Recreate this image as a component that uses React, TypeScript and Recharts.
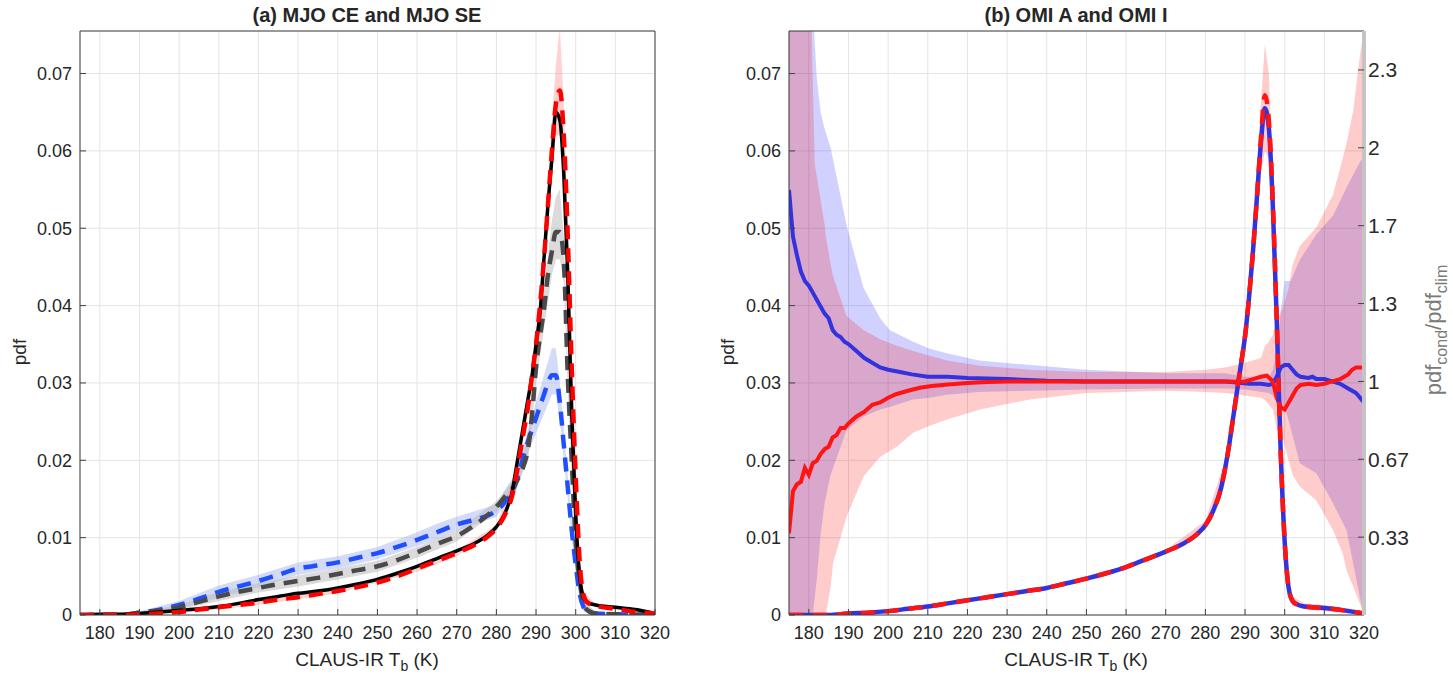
import { ComposedChart, Line, Area, XAxis, YAxis, CartesianGrid } from 'recharts';

// ---- axis ticks ----
const tempTicks = [180, 190, 200, 210, 220, 230, 240, 250, 260, 270, 280, 290, 300, 310, 320];
const pdfTicks = [0, 0.01, 0.02, 0.03, 0.04, 0.05, 0.06, 0.07];
const ratioTicks = [1 / 3, 2 / 3, 1, 4 / 3, 5 / 3, 2, 7 / 3];
const ratioTickLabels = ['0.33', '0.67', '1', '1.3', '1.7', '2', '2.3'];

// ---- panel (a): [Tb, pdf] ----
const mjoClim: [number, number][] = [
  [175, 0], [180, 0.0001], [185, 0.0001], [190, 0.0002], [195, 0.0004], [200, 0.0006], [205, 0.0008],
  [210, 0.0011], [215, 0.0015], [220, 0.002], [225, 0.0024], [230, 0.0028], [235, 0.0031], [240, 0.0035],
  [245, 0.004], [250, 0.0046], [255, 0.0054], [260, 0.0063], [265, 0.0073], [270, 0.0083], [275, 0.0094],
  [278, 0.0104], [280, 0.0114], [282, 0.013], [284, 0.016], [285, 0.019], [286, 0.022], [287, 0.025],
  [288, 0.028], [289, 0.031], [290, 0.035], [291, 0.039], [292, 0.046], [293, 0.053], [294, 0.059],
  [295, 0.065], [296, 0.064], [297, 0.057], [298, 0.044], [299, 0.026], [300, 0.013], [301, 0.005],
  [302, 0.0022], [303, 0.0016], [305, 0.0013], [310, 0.001], [315, 0.0007], [320, 0.0002],
];
const mjoSE: [number, number][] = [
  [175, 0], [185, 0], [190, 0.0001], [195, 0.0002], [200, 0.0004], [205, 0.0007], [210, 0.001],
  [215, 0.0013], [220, 0.0016], [225, 0.002], [230, 0.0023], [235, 0.0027], [240, 0.0031], [245, 0.0036],
  [250, 0.0042], [255, 0.005], [260, 0.006], [265, 0.007], [270, 0.008], [275, 0.0092], [278, 0.0102],
  [280, 0.0112], [282, 0.0128], [284, 0.0155], [285, 0.018], [286, 0.021], [287, 0.024], [288, 0.027],
  [289, 0.031], [290, 0.035], [291, 0.04], [292, 0.046], [293, 0.053], [294, 0.06], [295, 0.066],
  [296, 0.0678], [297, 0.062], [298, 0.049], [299, 0.032], [300, 0.018], [301, 0.007], [302, 0.0025],
  [303, 0.0016], [305, 0.0012], [310, 0.0008], [315, 0.0004], [320, 0.0002],
];
const mjoCE: [number, number][] = [
  [175, 0], [185, 0], [190, 0.0003], [195, 0.0006], [200, 0.001], [205, 0.0017], [210, 0.0024],
  [215, 0.003], [220, 0.0035], [225, 0.004], [230, 0.0044], [235, 0.0048], [240, 0.0053], [245, 0.0058],
  [250, 0.0063], [255, 0.0071], [260, 0.0081], [265, 0.0092], [270, 0.0102], [275, 0.0118], [278, 0.013],
  [280, 0.014], [282, 0.0152], [284, 0.0163], [285, 0.0172], [286, 0.0182], [287, 0.0195], [288, 0.0215],
  [289, 0.026], [290, 0.032], [291, 0.036], [292, 0.0395], [293, 0.044], [294, 0.047], [295, 0.0495],
  [296, 0.0495], [297, 0.0458], [298, 0.031], [299, 0.02], [300, 0.0095], [301, 0.0045], [302, 0.0015],
  [303, 0.0006], [305, 0.0002], [320, 0],
];
const mjoBlue: [number, number][] = [
  [175, 0], [185, 0], [190, 0.0003], [195, 0.0007], [200, 0.0013], [205, 0.0021], [210, 0.003],
  [215, 0.0037], [220, 0.0044], [225, 0.0052], [230, 0.006], [235, 0.0064], [240, 0.0068], [245, 0.0074],
  [250, 0.008], [255, 0.0088], [260, 0.0097], [265, 0.0107], [270, 0.0117], [275, 0.0124], [278, 0.0129],
  [280, 0.0135], [282, 0.0145], [284, 0.016], [285, 0.0172], [286, 0.019], [287, 0.0208], [288, 0.0225],
  [289, 0.024], [290, 0.0255], [291, 0.027], [292, 0.0285], [293, 0.03], [294, 0.031], [295, 0.031],
  [296, 0.0275], [297, 0.022], [298, 0.0165], [299, 0.011], [300, 0.0065], [301, 0.0028], [302, 0.001],
  [303, 0.0004], [305, 0.0002], [320, 0],
];
// spread bands [Tb, low, high]
const seBand: [number, number, number][] = [
  [175, 0, 0], [200, 0.0002, 0.0006], [220, 0.0013, 0.0019], [240, 0.0028, 0.0034], [260, 0.0056, 0.0064],
  [270, 0.0076, 0.0084], [280, 0.0108, 0.0116], [285, 0.0172, 0.0188], [288, 0.026, 0.028],
  [290, 0.0335, 0.0365], [292, 0.044, 0.048], [294, 0.057, 0.064], [295, 0.062, 0.071], [296, 0.062, 0.076],
  [297, 0.058, 0.066], [298, 0.046, 0.052], [299, 0.029, 0.035], [300, 0.016, 0.02], [301, 0.006, 0.008],
  [302, 0.002, 0.003], [305, 0.001, 0.0014], [320, 0.0001, 0.0003],
];
const ceBand: [number, number, number][] = [
  [175, 0, 0], [190, 0.0002, 0.0004], [200, 0.0007, 0.0013], [210, 0.0018, 0.003], [220, 0.0029, 0.0041],
  [230, 0.0037, 0.0051], [240, 0.0046, 0.006], [250, 0.0056, 0.007], [260, 0.0074, 0.0088],
  [270, 0.0095, 0.0109], [280, 0.0133, 0.0147], [285, 0.0165, 0.018], [288, 0.02, 0.023],
  [290, 0.03, 0.034], [292, 0.037, 0.042], [294, 0.044, 0.051], [295, 0.046, 0.054], [296, 0.046, 0.055],
  [297, 0.043, 0.049], [298, 0.029, 0.033], [299, 0.018, 0.021], [300, 0.008, 0.011], [301, 0.0035, 0.0055],
  [302, 0.001, 0.002], [305, 0, 0.0004], [320, 0, 0],
];
const blueBandA: [number, number, number][] = [
  [175, 0, 0], [190, 0.0001, 0.0005], [200, 0.0008, 0.0018], [210, 0.0022, 0.0038], [220, 0.0036, 0.0052],
  [230, 0.0052, 0.0068], [240, 0.006, 0.0076], [250, 0.0072, 0.0088], [260, 0.0089, 0.0107],
  [265, 0.0098, 0.0118], [270, 0.0109, 0.0127], [280, 0.0127, 0.0143], [285, 0.016, 0.0185], [288, 0.021, 0.024],
  [290, 0.0235, 0.0275], [292, 0.026, 0.031], [294, 0.0285, 0.0345], [295, 0.0285, 0.0345],
  [296, 0.025, 0.03], [297, 0.02, 0.024], [298, 0.015, 0.018], [299, 0.0098, 0.0122], [300, 0.0055, 0.0075],
  [301, 0.002, 0.0036], [302, 0.0005, 0.0015], [305, 0, 0.0004], [320, 0, 0],
];

// ---- panel (b): pdf [Tb, pdf] ----
const omiAPdf: [number, number][] = [
  [175, 0], [185, 0], [190, 0.0002], [195, 0.0003], [200, 0.0005], [205, 0.0008], [210, 0.0011],
  [215, 0.0015], [220, 0.0019], [225, 0.0023], [230, 0.0027], [235, 0.0031], [240, 0.0035], [245, 0.0041],
  [250, 0.0047], [255, 0.0054], [260, 0.0062], [265, 0.0072], [270, 0.0082], [275, 0.0094], [278, 0.0105],
  [280, 0.0116], [282, 0.0135], [284, 0.0165], [285, 0.019], [286, 0.022], [287, 0.0255], [288, 0.029],
  [289, 0.0325], [290, 0.036], [291, 0.041], [292, 0.047], [293, 0.054], [294, 0.061], [295, 0.0655],
  [296, 0.063], [297, 0.053], [298, 0.038], [299, 0.021], [300, 0.0095], [301, 0.0035], [302, 0.0018],
  [303, 0.0014], [305, 0.0011], [310, 0.0009], [315, 0.0006], [320, 0.0002],
];
const omiIPdf: [number, number][] = [
  [175, 0], [185, 0], [190, 0.0002], [195, 0.0003], [200, 0.0005], [205, 0.0008], [210, 0.0011],
  [215, 0.0015], [220, 0.0019], [225, 0.0023], [230, 0.0027], [235, 0.0031], [240, 0.0035], [245, 0.0041],
  [250, 0.0047], [255, 0.0054], [260, 0.0062], [265, 0.0072], [270, 0.0082], [275, 0.0094], [278, 0.0105],
  [280, 0.0116], [282, 0.0135], [284, 0.0165], [285, 0.019], [286, 0.022], [287, 0.0255], [288, 0.029],
  [289, 0.0325], [290, 0.036], [291, 0.041], [292, 0.047], [293, 0.054], [294, 0.0615], [295, 0.0672],
  [296, 0.064], [297, 0.0535], [298, 0.038], [299, 0.021], [300, 0.0095], [301, 0.0035], [302, 0.0018],
  [303, 0.0014], [305, 0.0011], [310, 0.0009], [315, 0.0006], [320, 0.0002],
];
const omiPdfBand: [number, number, number][] = [
  [175, 0, 0], [190, 0.0001, 0.0003], [200, 0.0004, 0.0006], [220, 0.0017, 0.0021], [240, 0.0033, 0.0037],
  [260, 0.006, 0.0064], [270, 0.008, 0.0084], [280, 0.011, 0.0122], [285, 0.018, 0.02],
  [288, 0.0275, 0.0305], [290, 0.034, 0.038], [292, 0.044, 0.05], [294, 0.057, 0.066], [295, 0.06, 0.0738],
  [296, 0.059, 0.07], [297, 0.05, 0.057], [298, 0.035, 0.041], [299, 0.019, 0.023], [300, 0.0085, 0.0105],
  [301, 0.003, 0.004], [302, 0.0012, 0.0024], [305, 0.0007, 0.0015], [310, 0.0005, 0.0013], [320, 0, 0.0004],
];

// ---- panel (b): pdf_cond / pdf_clim [Tb, ratio] ----
const omiARatio: [number, number][] = [
  [175, 1.82], [176, 1.62], [177, 1.54], [178, 1.47], [179, 1.43], [180, 1.41], [181, 1.38], [182, 1.35],
  [183, 1.32], [184, 1.29], [185, 1.27], [186, 1.22], [187, 1.2], [188, 1.19], [189, 1.17], [190, 1.16],
  [192, 1.13], [194, 1.1], [196, 1.08], [198, 1.06], [200, 1.05], [203, 1.04], [206, 1.03], [210, 1.02],
  [215, 1.02], [220, 1.015], [230, 1.01], [240, 1.003], [250, 1.0], [260, 1.0], [270, 1.0], [280, 1.0],
  [285, 1.0], [288, 0.995], [291, 0.99], [294, 0.99], [296, 0.985], [297, 0.99], [298, 1.02], [299, 1.06],
  [300, 1.07], [301, 1.07], [302, 1.05], [303, 1.03], [304, 1.02], [306, 1.015], [307, 1.02], [308, 1.01],
  [310, 1.01], [312, 1.0], [314, 0.99], [316, 0.97], [318, 0.95], [320, 0.91],
];
const omiIRatio: [number, number][] = [
  [175, 0.35], [176, 0.53], [177, 0.56], [178, 0.57], [179, 0.63], [180, 0.6], [181, 0.65], [182, 0.66],
  [183, 0.69], [184, 0.71], [185, 0.72], [186, 0.76], [187, 0.77], [188, 0.8], [189, 0.8], [190, 0.82],
  [192, 0.85], [194, 0.87], [196, 0.9], [198, 0.91], [200, 0.93], [202, 0.945], [205, 0.96], [208, 0.973],
  [211, 0.98], [215, 0.987], [220, 0.993], [225, 0.997], [230, 1.0], [240, 1.0], [250, 1.0], [260, 1.0],
  [270, 1.0], [280, 1.0], [285, 1.0], [288, 0.998], [290, 1.0], [292, 1.01], [294, 1.02], [295.5, 1.025],
  [297, 1.0], [298, 0.93], [299, 0.89], [300, 0.88], [301, 0.91], [302, 0.94], [303, 0.97], [304, 0.985],
  [306, 0.99], [308, 0.985], [310, 0.99], [312, 1.0], [314, 1.01], [316, 1.03], [317, 1.05], [318, 1.06],
  [320, 1.06],
];
const omiABand: [number, number, number][] = [
  [175, 0, 3], [180, 0, 3], [181, 0, 2.6], [182, 0.15, 2.3], [183, 0.35, 2.15], [184, 0.48, 2.08],
  [185.5, 0.6, 2.0], [189.5, 0.79, 1.67], [193.8, 0.85, 1.4], [198, 0.88, 1.27], [200.4, 0.89, 1.22],
  [206.3, 0.923, 1.17], [210.5, 0.93, 1.14], [214.8, 0.943, 1.12], [223, 0.955, 1.09], [236, 0.96, 1.07],
  [250, 0.965, 1.05], [270, 0.97, 1.035], [285, 0.97, 1.035], [290, 0.965, 1.02], [296, 0.95, 1.02],
  [297, 0.94, 1.05], [298, 0.92, 1.12], [299, 0.9, 1.3], [300, 0.893, 1.43], [301.5, 0.8, 1.43],
  [303.8, 0.65, 1.52], [308, 0.607, 1.63], [312.2, 0.477, 1.71], [315.6, 0.363, 1.83], [319, 0.073, 1.94],
  [320, 0, 1.96],
];
const omiIBand: [number, number, number][] = [
  [175, 0, 3], [180, 0, 3], [181.5, 0, 1.93], [184, 0, 1.67], [184.3, 0, 1.62], [185.5, 0.12, 1.5],
  [186.1, 0.22, 1.45], [189.5, 0.42, 1.28], [193.8, 0.593, 1.22], [198, 0.677, 1.18], [202.2, 0.72, 1.153],
  [206.3, 0.78, 1.13], [210.5, 0.81, 1.11], [214.8, 0.837, 1.09], [223.2, 0.88, 1.067], [235.8, 0.923, 1.05],
  [250, 0.95, 1.04], [270, 0.96, 1.04], [280, 0.955, 1.05], [285, 0.95, 1.06], [290, 0.94, 1.08],
  [294, 0.93, 1.1], [295, 0.92, 1.15], [296, 0.9, 1.17], [297, 0.88, 1.2], [298, 0.8, 1.26],
  [299.6, 0.75, 1.32], [301, 0.66, 1.4], [302, 0.6, 1.5], [303.8, 0.55, 1.58], [308, 0.49, 1.66],
  [312.2, 0.363, 1.8], [314.7, 0.26, 1.96], [315.6, 0.19, 2.02], [317.3, 0.12, 2.16], [319, 0.047, 2.4],
  [320, 0, 2.5],
];

const toLine = (pts: [number, number][]) => pts.map(([t, v]) => ({ t, v }));
const toBand = (pts: [number, number, number][]) => pts.map(([t, lo, hi]) => ({ t, r: [lo, hi] }));

const FONT = '"Liberation Sans", Arial, Helvetica, sans-serif';
const AXIS = '#404040';
const tickStyle = { fontSize: 18, fill: '#262626', fontFamily: FONT };

const W = 700;
const H = 679;

function Frame({ rightAxis }: { rightAxis?: boolean }) {
  return (
    <>
      <CartesianGrid stroke="#e4e4e4" strokeWidth={1} />
      <XAxis
        dataKey="t"
        type="number"
        domain={[175, 320]}
        ticks={tempTicks}
        allowDataOverflow
        height={40}
        tickSize={-6}
        tickMargin={17}
        stroke={AXIS}
        tick={tickStyle}
      />
      <XAxis
        xAxisId="top"
        orientation="top"
        dataKey="t"
        type="number"
        domain={[175, 320]}
        ticks={tempTicks}
        height={10}
        tickSize={-6}
        tickFormatter={() => ''}
        stroke={AXIS}
      />
      <YAxis
        type="number"
        domain={[0, 0.0755]}
        ticks={pdfTicks}
        allowDataOverflow
        width={60}
        tickSize={-6}
        tickMargin={14}
        stroke={AXIS}
        tick={tickStyle}
        tickFormatter={(v: number) => (v === 0 ? '0' : v.toFixed(2))}
      />
      {!rightAxis && (
        <YAxis
          yAxisId="box"
          orientation="right"
          type="number"
          domain={[0, 0.0755]}
          ticks={pdfTicks}
          width={10}
          tickSize={-6}
          tickFormatter={() => ''}
          stroke={AXIS}
        />
      )}
    </>
  );
}

function PanelA() {
  return (
    <ComposedChart width={W} height={H} margin={{ top: 21, right: 35, bottom: 24, left: 20 }}>
      {Frame({})}
      <Area data={toBand(blueBandA)} dataKey="r" type="linear" stroke="none" fill="#9fb0f0" fillOpacity={0.45} isAnimationActive={false} />
      <Area data={toBand(ceBand)} dataKey="r" type="linear" stroke="none" fill="#b8b8b8" fillOpacity={0.5} isAnimationActive={false} />
      <Area data={toBand(seBand)} dataKey="r" type="linear" stroke="none" fill="#ff9a9a" fillOpacity={0.45} isAnimationActive={false} />
      <Line data={toLine(mjoBlue)} dataKey="v" type="monotone" stroke="#1f4fff" strokeWidth={4.5} strokeDasharray="14 9" dot={false} isAnimationActive={false} />
      <Line data={toLine(mjoCE)} dataKey="v" type="monotone" stroke="#4a4a4a" strokeWidth={4.5} strokeDasharray="14 9" dot={false} isAnimationActive={false} />
      <Line data={toLine(mjoClim)} dataKey="v" type="monotone" stroke="#000000" strokeWidth={3.5} dot={false} isAnimationActive={false} />
      <Line data={toLine(mjoSE)} dataKey="v" type="monotone" stroke="#ff0000" strokeWidth={4.5} strokeDasharray="14 9" dot={false} isAnimationActive={false} />
    </ComposedChart>
  );
}

function PanelB() {
  return (
    <ComposedChart width={733} height={H} margin={{ top: 21, right: 29, bottom: 24, left: 9 }}>
      {Frame({ rightAxis: true })}
      <YAxis
        yAxisId="ratio"
        orientation="right"
        type="number"
        domain={[0, 2.5]}
        ticks={ratioTicks}
        allowDataOverflow
        width={60}
        tickSize={-6}
        tickMargin={10}
        axisLine={{ stroke: '#c4c4c4', strokeWidth: 4 }}
        tickLine={{ stroke: AXIS }}
        tick={{ fontSize: 21, fill: '#2b2b2b', fontFamily: FONT }}
        tickFormatter={(v: number) => ratioTickLabels[ratioTicks.indexOf(v)] ?? ''}
      />
      <Area yAxisId="ratio" data={toBand(omiABand)} dataKey="r" type="linear" stroke="none" fill="#0000ff" fillOpacity={0.18} isAnimationActive={false} />
      <Area yAxisId="ratio" data={toBand(omiIBand)} dataKey="r" type="linear" stroke="none" fill="#ff0000" fillOpacity={0.2} isAnimationActive={false} />
      <Area data={toBand(omiPdfBand)} dataKey="r" type="linear" stroke="none" fill="#ff0000" fillOpacity={0.2} isAnimationActive={false} />
      <Line yAxisId="ratio" data={toLine(omiARatio)} dataKey="v" type="linear" stroke="#3333dd" strokeWidth={4} dot={false} isAnimationActive={false} />
      <Line yAxisId="ratio" data={toLine(omiIRatio)} dataKey="v" type="linear" stroke="#ff1414" strokeWidth={4} dot={false} isAnimationActive={false} />
      <Line data={toLine(omiAPdf)} dataKey="v" type="monotone" stroke="#3333dd" strokeWidth={4.5} dot={false} isAnimationActive={false} />
      <Line data={toLine(omiIPdf)} dataKey="v" type="monotone" stroke="#ff1414" strokeWidth={4.5} strokeDasharray="14 10" dot={false} isAnimationActive={false} />
    </ComposedChart>
  );
}

const textBase: React.CSSProperties = { position: 'absolute', fontFamily: FONT, color: '#262626', whiteSpace: 'nowrap' };

export default function App() {
  return (
    <div style={{ position: 'absolute', left: 0, top: 0, width: 1453, height: 679, background: '#fff', overflow: 'hidden' }}>
      <div style={{ position: 'absolute', left: 0, top: 0 }}>
        <PanelA />
      </div>
      <div style={{ position: 'absolute', left: 720, top: 0 }}>
        <PanelB />
      </div>
      {/* titles */}
      <div style={{ ...textBase, left: 167, width: 400, top: 3, textAlign: 'center', fontSize: 20, fontWeight: 'bold', lineHeight: '24px' }}>
        (a) MJO CE and MJO SE
      </div>
      <div style={{ ...textBase, left: 876, width: 400, top: 3, textAlign: 'center', fontSize: 20, fontWeight: 'bold', lineHeight: '24px' }}>
        (b) OMI A and OMI I
      </div>
      {/* x labels */}
      <div style={{ ...textBase, left: 167, width: 400, top: 649, textAlign: 'center', fontSize: 19, lineHeight: '22px' }}>
        CLAUS-IR T<sub style={{ fontSize: 14 }}>b</sub> (K)
      </div>
      <div style={{ ...textBase, left: 876, width: 400, top: 649, textAlign: 'center', fontSize: 19, lineHeight: '22px' }}>
        CLAUS-IR T<sub style={{ fontSize: 14 }}>b</sub> (K)
      </div>
      {/* y labels */}
      <div style={{ ...textBase, left: 20, top: 352, fontSize: 19, transform: 'translate(-50%, -50%) rotate(-90deg)' }}>pdf</div>
      <div style={{ ...textBase, left: 728, top: 352, fontSize: 19, transform: 'translate(-50%, -50%) rotate(-90deg)' }}>pdf</div>
      <div style={{ ...textBase, left: 1436, top: 330, fontSize: 22, color: '#7a7a7a', transform: 'translate(-50%, -50%) rotate(-90deg)' }}>
        pdf<sub style={{ fontSize: 16 }}>cond</sub>/pdf<sub style={{ fontSize: 16 }}>clim</sub>
      </div>
    </div>
  );
}
